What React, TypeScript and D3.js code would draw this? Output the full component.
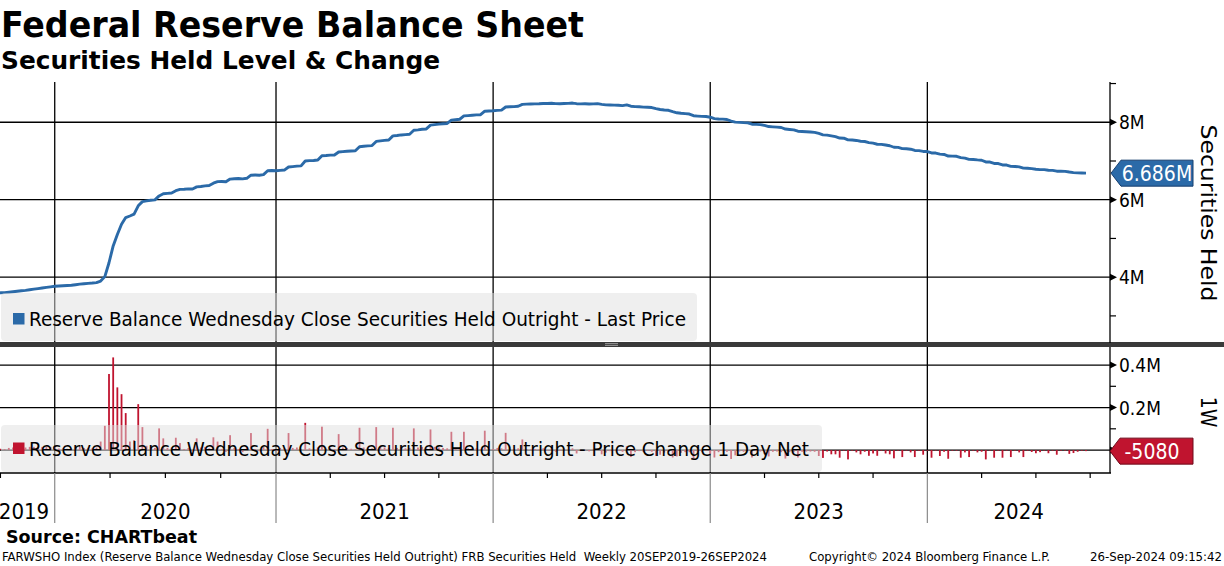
import React from 'react';
import * as d3 from 'd3';

// Weekly (Thursday) levels, $ billions — Reserve Balance Wednesday Close Securities Held Outright
const level2019 = [3585, 3590, 3596, 3600, 3610, 3622, 3635, 3648, 3660, 3675, 3690, 3705, 3720, 3735, 3750];
const level2020 = [3765, 3772, 3780, 3786, 3792, 3805, 3820, 3830, 3840, 3848, 3860, 3900, 4014, 4372, 4808, 5103, 5366, 5540, 5580, 5627, 5843, 5951, 5971, 5986, 5996, 6098, 6153, 6163, 6175, 6233, 6266, 6271, 6281, 6276, 6331, 6343, 6358, 6366, 6426, 6466, 6471, 6463, 6533, 6543, 6548, 6538, 6553, 6633, 6638, 6633, 6648, 6748, 6753];
const level2021 = [6748, 6758, 6766, 6846, 6856, 6868, 6873, 7001, 7009, 7014, 7026, 7136, 7142, 7152, 7156, 7231, 7243, 7253, 7259, 7263, 7368, 7380, 7390, 7398, 7506, 7521, 7533, 7543, 7648, 7658, 7673, 7681, 7691, 7793, 7805, 7820, 7828, 7925, 7940, 7952, 7962, 7970, 8056, 8066, 8078, 8164, 8172, 8182, 8190, 8195, 8286, 8291];
const level2022 = [8296, 8306, 8314, 8395, 8400, 8405, 8413, 8463, 8468, 8471, 8476, 8478, 8486, 8484, 8490, 8482, 8478, 8485, 8488, 8496, 8480, 8476, 8478, 8472, 8474, 8482, 8462, 8450, 8445, 8442, 8438, 8430, 8448, 8415, 8405, 8400, 8392, 8388, 8380, 8352, 8330, 8318, 8310, 8275, 8245, 8232, 8222, 8212, 8170, 8160, 8152, 8148];
const level2023 = [8130, 8095, 8085, 8080, 8072, 8030, 8005, 7998, 7990, 7985, 7950, 7945, 7938, 7920, 7890, 7882, 7875, 7865, 7825, 7815, 7805, 7770, 7762, 7755, 7748, 7740, 7712, 7675, 7668, 7648, 7628, 7592, 7589, 7545, 7542, 7531, 7511, 7503, 7476, 7460, 7433, 7430, 7414, 7394, 7355, 7352, 7319, 7316, 7305, 7272, 7269, 7247];
const level2024 = [7244, 7208, 7205, 7177, 7169, 7128, 7125, 7122, 7086, 7075, 7042, 7039, 7028, 7020, 6976, 6973, 6937, 6934, 6898, 6895, 6862, 6859, 6848, 6815, 6812, 6803, 6788, 6778, 6776, 6761, 6759, 6737, 6735, 6733, 6715, 6701, 6693, 6691.08, 6686];

const yearLabels = ['2019', '2020', '2021', '2022', '2023', '2024'];
const levelsByYear = [level2019, level2020, level2021, level2022, level2023, level2024];

const topMajorTicks = [4000, 6000, 8000];
const topMajorLabels = ['4M', '6M', '8M'];
const topMinorTicks = [3000, 5000, 7000, 9000];
const botMajorTicks = [0, 200, 400];
const botMajorLabels = ['', '0.2M', '0.4M'];
const botMinorTicks = [100, 300];

const titleText = 'Federal Reserve Balance Sheet';
const subtitleText = 'Securities Held Level & Change';
const legendTop = 'Reserve Balance Wednesday Close Securities Held Outright - Last Price';
const legendBot = 'Reserve Balance Wednesday Close Securities Held Outright - Price Change 1 Day Net';
const footerLeft = 'FARWSHO Index (Reserve Balance Wednesday Close Securities Held Outright) FRB Securities Held  Weekly 20SEP2019-26SEP2024';
const footerMid = 'Copyright\u00A9 2024 Bloomberg Finance L.P.';
const footerRight = '26-Sep-2024 09:15:42';

const levels: number[] = levelsByYear.flat();
const changes: number[] = levels.map((v, i) => (i === 0 ? 0 : v - levels[i - 1]));

const F = "'DejaVu Sans Condensed', 'DejaVu Sans', sans-serif";
const BLUE = '#2b6aa8';
const RED = '#c0142f';

export default function App() {
  const W = 1224, H = 566;
  const plotR = 1110;
  const topT = 82, topB = 343, botT = 347, botB = 473;

  const x = d3.scaleLinear().domain([0, levels.length - 1]).range([-7.9, 1086]);
  const yT = d3.scaleLinear().domain([2300, 9040]).range([topB, topT]);
  const yB = d3.scaleLinear().domain([-108, 485]).range([botB, botT]);

  const linePath = d3.line<number>().x((_, i) => x(i)).y((d) => yT(d))(levels) || '';

  const yearStart: number[] = [];
  let acc = 0;
  levelsByYear.forEach((arr) => { yearStart.push(acc); acc += arr.length; });
  const bounds = yearStart.slice(1);
  const quarterIdx: number[] = [];
  quarterIdx.push(bounds[0] - 13);
  bounds.forEach((s, k) => {
    const e = k + 1 < bounds.length ? bounds[k + 1] : s + 52;
    for (let q = 1; q <= 3; q++) quarterIdx.push(s + (q * (e - s)) / 4);
  });
  const yearEdges = [0, ...bounds.map((b) => x(b)), plotR];
  const labelX = yearLabels.map((_, k) => (k === 0 ? 24 : (yearEdges[k] + yearEdges[k + 1]) / 2));

  const last = levels[levels.length - 1];
  const lastChg = changes[changes.length - 1];
  const lastLabel = d3.format('.3f')(last / 1000) + 'M';
  const chgLabel = String(Math.round(lastChg * 1000));

  const tag = (x0: number, x1: number, yc: number) =>
    `M${x0},${yc} L${x0 + 10},${yc - 13} L${x1},${yc - 13} L${x1},${yc + 13} L${x0 + 10},${yc + 13} Z`;

  const yLast = yT(last);
  const yChg = yB(lastChg);

  return (
    <svg width={W} height={H} style={{ position: 'absolute', left: 0, top: 0, background: '#fff', display: 'block' }} fontFamily={F}>
      <defs>
        <clipPath id="clipTop"><rect x={0} y={topT} width={plotR} height={topB - topT} /></clipPath>
        <clipPath id="clipBot"><rect x={0} y={botT} width={plotR} height={botB - botT} /></clipPath>
      </defs>
      <rect x={0} y={0} width={W} height={H} fill="#fff" />

      <text x={1} y={37} fontSize={35} fontWeight="bold" fill="#000" textLength={583} lengthAdjust="spacingAndGlyphs">{titleText}</text>
      <text x={1} y={69} fontSize={25} fontWeight="bold" fill="#000" textLength={439} lengthAdjust="spacingAndGlyphs">{subtitleText}</text>

      {topMajorTicks.map((t) => (
        <line key={'gt' + t} x1={0} x2={plotR} y1={yT(t)} y2={yT(t)} stroke="#000" strokeWidth={1.3} />
      ))}
      {bounds.map((b) => (
        <line key={'vt' + b} x1={x(b)} x2={x(b)} y1={topT} y2={topB} stroke="#000" strokeWidth={1.3} />
      ))}
      {botMajorTicks.map((t) => (
        <line key={'gb' + t} x1={0} x2={plotR} y1={yB(t)} y2={yB(t)} stroke="#000" strokeWidth={1.3} />
      ))}
      {bounds.map((b) => (
        <line key={'vb' + b} x1={x(b)} x2={x(b)} y1={botT} y2={botB} stroke="#000" strokeWidth={1.3} />
      ))}

      <g clipPath="url(#clipTop)">
        <path d={linePath} fill="none" stroke={BLUE} strokeWidth={2.9} strokeLinejoin="round" />
      </g>
      <g clipPath="url(#clipBot)">
        {changes.map((c, i) =>
          i === 0 ? null : (
            <rect key={'b' + i} x={x(i) - 0.9} width={1.8} y={Math.min(yB(0), yB(c))} height={Math.max(0.6, Math.abs(yB(c) - yB(0)))} fill={RED} />
          )
        )}
      </g>

      <rect x={1} y={293} width={696} height={48} rx={4} fill="#e0e0e0" fillOpacity={0.5} />
      <rect x={13} y={313} width={11.5} height={11.5} fill={BLUE} />
      <text x={29} y={326} fontSize={20} fill="#000" textLength={657} lengthAdjust="spacingAndGlyphs">{legendTop}</text>

      <rect x={1} y={425} width={821} height={47} rx={4} fill="#e0e0e0" fillOpacity={0.5} />
      <rect x={13} y={442.5} width={11.5} height={11.5} fill={RED} />
      <text x={29} y={456} fontSize={20} fill="#000" textLength={780} lengthAdjust="spacingAndGlyphs">{legendBot}</text>

      <rect x={0} y={342} width={W} height={5} fill="#3a3a3a" />
      <line x1={605} x2={618} y1={343.6} y2={343.6} stroke="#b0b0b0" strokeWidth={0.8} />
      <line x1={605} x2={618} y1={345.4} y2={345.4} stroke="#b0b0b0" strokeWidth={0.8} />

      <line x1={plotR} x2={plotR} y1={topT} y2={topB} stroke="#000" strokeWidth={1.3} />
      <line x1={plotR} x2={plotR} y1={botT} y2={botB} stroke="#000" strokeWidth={1.3} />
      {topMinorTicks.map((t) => (
        <line key={'tm' + t} x1={plotR} x2={plotR + 6} y1={yT(t)} y2={yT(t)} stroke="#000" strokeWidth={1.2} />
      ))}
      {topMajorTicks.map((t, k) => (
        <g key={'tM' + t}>
          <path d={`M${plotR},${yT(t) - 3.5} L${plotR + 7},${yT(t)} L${plotR},${yT(t) + 3.5} Z`} fill="#000" />
          <text x={plotR + 9} y={yT(t) + 7} fontSize={19} fill="#000">{topMajorLabels[k]}</text>
        </g>
      ))}
      {botMinorTicks.map((t) => (
        <line key={'bm' + t} x1={plotR} x2={plotR + 6} y1={yB(t)} y2={yB(t)} stroke="#000" strokeWidth={1.2} />
      ))}
      {botMajorTicks.map((t, k) => (
        <g key={'bM' + t}>
          <path d={`M${plotR},${yB(t) - 3.5} L${plotR + 7},${yB(t)} L${plotR},${yB(t) + 3.5} Z`} fill="#000" />
          {botMajorLabels[k] && (
            <text x={plotR + 9} y={yB(t) + 7} fontSize={19} fill="#000">{botMajorLabels[k]}</text>
          )}
        </g>
      ))}

      <text transform="translate(1201,213) rotate(90)" textAnchor="middle" fontSize={22} fill="#000" textLength={177} lengthAdjust="spacingAndGlyphs">Securities Held</text>
      <text transform="translate(1201,412) rotate(90)" textAnchor="middle" fontSize={21} fill="#000">1W</text>

      <path d={tag(1111, 1193, yLast)} fill={BLUE} stroke="#163e6e" strokeWidth={1} />
      <text x={1157} y={yLast + 7.5} textAnchor="middle" fontSize={21} fill="#fff">{lastLabel}</text>
      <path d={tag(1110, 1193, yChg)} fill={RED} stroke="#6e0a1a" strokeWidth={1} />
      <text x={1152} y={yChg + 7.5} textAnchor="middle" fontSize={21} fill="#fff">{chgLabel}</text>

      <line x1={0} x2={plotR + 1} y1={botB} y2={botB} stroke="#000" strokeWidth={1.3} />
      {quarterIdx.map((q, k) => (
        <line key={'q' + k} x1={x(q)} x2={x(q)} y1={botB} y2={botB + 5} stroke="#000" strokeWidth={1.2} />
      ))}
      {bounds.map((b) => (
        <line key={'ys' + b} x1={x(b)} x2={x(b)} y1={botB} y2={523} stroke="#8a8a8a" strokeWidth={1.2} />
      ))}
      {yearLabels.map((lab, k) => (
        <text key={lab} x={labelX[k]} y={519} textAnchor="middle" fontSize={22} fill="#000">{lab}</text>
      ))}

      <text x={6} y={543} fontSize={17} fontWeight="bold" fill="#000" textLength={191} lengthAdjust="spacingAndGlyphs">Source: CHARTbeat</text>
      <text x={2} y={561} fontSize={12} fill="#000" style={{ whiteSpace: 'pre' }} textLength={765} lengthAdjust="spacingAndGlyphs">{footerLeft}</text>
      <text x={809} y={561} fontSize={12} fill="#000" textLength={241} lengthAdjust="spacingAndGlyphs">{footerMid}</text>
      <text x={1090} y={561} fontSize={12} fill="#000" textLength={132} lengthAdjust="spacingAndGlyphs">{footerRight}</text>
    </svg>
  );
}
